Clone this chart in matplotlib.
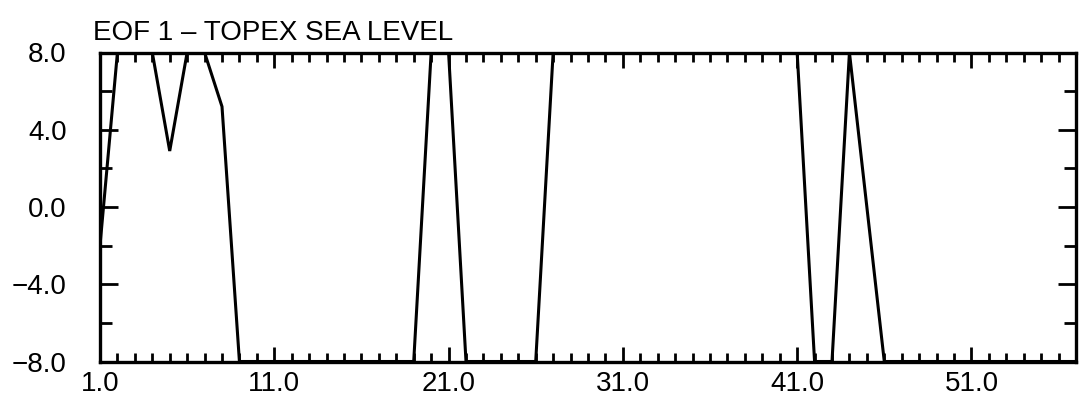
import matplotlib
matplotlib.use("Agg")
import matplotlib.pyplot as plt
from matplotlib.ticker import MultipleLocator, FixedLocator, FixedFormatter

plt.rcParams['font.family'] = ['Liberation Sans', 'DejaVu Sans']

# EOF 1 amplitude per time index (values held at the +/-8 plot limits)
time_index = list(range(1, 58))
eof1 = [
    -2.0, 8.0, 8.0, 8.0, 2.9, 8.0, 8.0, 5.2,
    -8.0, -8.0, -8.0, -8.0, -8.0, -8.0, -8.0, -8.0, -8.0, -8.0, -8.0,
    8.0, 8.0,
    -8.0, -8.0, -8.0, -8.0, -8.0,
    8.0, 8.0, 8.0, 8.0, 8.0, 8.0, 8.0, 8.0, 8.0, 8.0, 8.0, 8.0, 8.0, 8.0, 8.0,
    -8.0, -8.0,
    8.0, 0.0,
    -8.0, -8.0, -8.0, -8.0, -8.0, -8.0, -8.0, -8.0, -8.0, -8.0, -8.0, -8.0,
]

x_major = [1, 11, 21, 31, 41, 51]
x_labels = ["1.0", "11.0", "21.0", "31.0", "41.0", "51.0"]
y_major = [-8, -4, 0, 4, 8]
y_labels = ["\u22128.0", "\u22124.0", "0.0", "4.0", "8.0"]
title = "EOF 1 \u2013 TOPEX SEA LEVEL"

W, H = 1082, 416
fig = plt.figure(figsize=(W / 100, H / 100), dpi=100)
ax = fig.add_axes([100 / W, (H - 361.5) / H, 976 / W, 309 / H])

ax.plot(time_index, eof1, color="black", linewidth=2.2, solid_joinstyle="miter")

ax.set_xlim(1, 57)
ax.set_ylim(-8, 8)

ax.xaxis.set_major_locator(FixedLocator(x_major))
ax.xaxis.set_major_formatter(FixedFormatter(x_labels))
ax.xaxis.set_minor_locator(MultipleLocator(1))
ax.yaxis.set_major_locator(FixedLocator(y_major))
ax.yaxis.set_major_formatter(FixedFormatter(y_labels))
ax.yaxis.set_minor_locator(MultipleLocator(2))

ax.tick_params(axis="x", which="both", direction="in", top=True, bottom=True,
               width=2.0, color="black", labelsize=20, pad=7)
ax.tick_params(axis="x", which="major", length=11)
ax.tick_params(axis="x", which="minor", length=6.5)
ax.tick_params(axis="y", which="both", direction="in", left=True, right=True,
               width=2.0, color="black", labelsize=20, pad=24)
ax.tick_params(axis="y", which="major", length=13)
ax.tick_params(axis="y", which="minor", length=8.5)

for s in ax.spines.values():
    s.set_linewidth(2.4)
    s.set_color("black")

fig.text(93 / W, (H - 40) / H, title, fontsize=20, ha="left", va="baseline")

fig.savefig("out.png", dpi=100, facecolor="white")
